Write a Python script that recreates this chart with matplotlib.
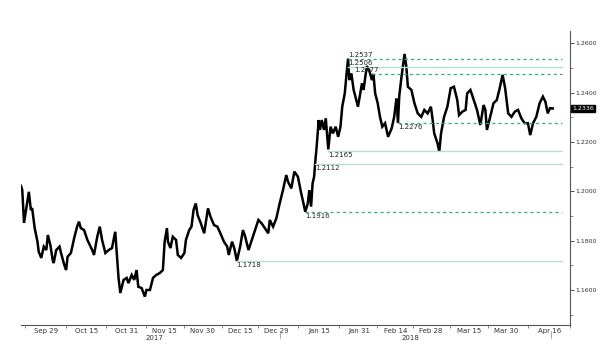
import numpy as np
import pandas as pd
from matplotlib import pyplot as plt

# day offsets from 2017-09-29 and the rate
days = [-9.7, -9.2, -8.5, -7.5, -6.6, -5.8, -5.3, -4.3, -3.2, -2.7, -1.7, -0.7, 0.3, 0.9, 1.9,
        2.8, 3.2, 4.2, 5.5, 6.1, 7.4, 8.1, 8.7, 10.0, 11.3, 12.5, 13.2, 13.9, 15.2, 16.5,
        18.4, 19.1, 20.4, 21.4, 22.3, 23.6, 24.9, 26.2, 27.5, 28.2, 28.8, 29.5, 30.8, 32.0,
        32.7, 34.0, 35.0, 35.9, 36.6, 37.9, 39.2, 39.8, 41.2, 42.4, 43.7, 45.1, 46.3, 47.0,
        47.9, 48.3, 49.3, 50.2, 51.5, 52.2, 53.5, 54.8, 55.4, 56.7, 57.6, 58.4, 59.3, 60.0,
        61.3, 62.6, 63.2, 64.1, 65.1, 66.5, 67.8, 69.0, 70.4, 71.7, 72.3, 73.6, 74.5, 75.5,
        76.8, 77.9, 78.8, 80.1, 81.4, 82.7, 84.0, 85.3, 86.6, 87.9, 88.5, 89.8, 91.1, 92.4,
        93.7, 95.0, 95.7, 97.0, 98.2, 99.6, 100.9, 101.8, 102.5, 103.5, 104.1, 104.8, 105.4,
        106.0, 106.4, 107.0, 107.8, 108.3, 109.0, 109.9, 110.6, 111.3, 111.6, 112.5, 113.4,
        114.5, 115.5, 116.4, 117.1, 118.1, 118.7, 119.4, 119.9, 120.7, 121.6, 122.3, 123.3,
        124.2, 124.9, 125.5, 126.2, 126.8, 127.7, 128.8, 129.4, 130.1, 131.1, 132.0, 132.9,
        134.0, 135.2, 136.6, 137.6, 138.5, 139.1, 139.6, 140.5, 141.7, 142.4, 143.0, 144.4,
        145.6, 146.9, 148.3, 149.5, 150.8, 152.1, 152.8, 153.4, 154.7, 155.4, 156.1, 157.3,
        158.6, 159.9, 161.2, 162.5, 163.2, 164.5, 165.8, 166.4, 167.7, 169.0, 170.3, 171.6,
        172.9, 173.6, 174.2, 175.5, 176.8, 178.1, 179.1, 180.4, 181.4, 182.6, 183.9, 185.2,
        186.5, 187.8, 189.1, 190.4, 191.3, 192.4, 193.7, 195.0, 196.3, 197.3, 198.2, 199.1,
        200.2]
rates = [1.2022, 1.2005, 1.1872, 1.1938, 1.1998, 1.1924, 1.1932, 1.1851, 1.1796, 1.1755,
         1.1730, 1.1776, 1.1762, 1.1823, 1.1782, 1.1722, 1.1709, 1.1762, 1.1776, 1.1750,
         1.1701, 1.1681, 1.1735, 1.1750, 1.1811, 1.1859, 1.1877, 1.1851, 1.1843, 1.1803,
         1.1762, 1.1742, 1.1816, 1.1857, 1.1803, 1.1750, 1.1762, 1.1770, 1.1836, 1.1735,
         1.1649, 1.1588, 1.1641, 1.1649, 1.1628, 1.1661, 1.1641, 1.1681, 1.1613, 1.1608,
         1.1573, 1.1600, 1.1600, 1.1649, 1.1661, 1.1669, 1.1681, 1.1796, 1.1851, 1.1796,
         1.1770, 1.1816, 1.1803, 1.1742, 1.1730, 1.1750, 1.1803, 1.1843, 1.1857, 1.1924,
         1.1951, 1.1904, 1.1870, 1.1830, 1.1871, 1.1931, 1.1897, 1.1863, 1.1857, 1.1830,
         1.1796, 1.1776, 1.1742, 1.1796, 1.1769, 1.1718, 1.1776, 1.1843, 1.1816, 1.1762,
         1.1803, 1.1843, 1.1884, 1.1870, 1.1850, 1.1830, 1.1884, 1.1857, 1.1891, 1.1951,
         1.2005, 1.2066, 1.2039, 1.2012, 1.2080, 1.2059, 1.1992, 1.1951, 1.1917, 1.1951,
         1.2005, 1.1938, 1.2033, 1.2059, 1.2114, 1.2181, 1.2289, 1.2249, 1.2289, 1.2249,
         1.2296, 1.2208, 1.2170, 1.2262, 1.2235, 1.2262, 1.2221, 1.2262, 1.2343, 1.2397,
         1.2465, 1.2538, 1.2451, 1.2478, 1.2411, 1.2384, 1.2343, 1.2397, 1.2438, 1.2411,
         1.2465, 1.2508, 1.2492, 1.2451, 1.2476, 1.2397, 1.2357, 1.2302, 1.2262, 1.2276,
         1.2221, 1.2255, 1.2302, 1.2377, 1.2277, 1.2386, 1.2465, 1.2557, 1.2505, 1.2424,
         1.2411, 1.2357, 1.2316, 1.2302, 1.2330, 1.2316, 1.2343, 1.2289, 1.2235, 1.2195,
         1.2161, 1.2235, 1.2302, 1.2343, 1.2418, 1.2424, 1.2370, 1.2309, 1.2323, 1.2330,
         1.2397, 1.2411, 1.2370, 1.2330, 1.2269, 1.2350, 1.2330, 1.2249, 1.2302, 1.2357,
         1.2370, 1.2411, 1.2472, 1.2418, 1.2316, 1.2302, 1.2323, 1.2330, 1.2296, 1.2276,
         1.2276, 1.2228, 1.2276, 1.2302, 1.2357, 1.2384, 1.2363, 1.2316, 1.2337, 1.2336]

# marked levels: value, day where the line starts, dashed or solid, label above/below
level_values = [1.2537, 1.2506, 1.2477, 1.2276, 1.2165, 1.2112, 1.1916, 1.1718]
level_start = [119.5, 119.5, 128.9, 139.2, 111.6, 106.4, 102.4, 75.2]
level_label_day = [119.5, 119.5, 121.9, 139.2, 111.6, 106.4, 102.4, 75.2]
level_dashed = [True, False, True, True, False, False, True, False]
level_above = [True, True, True, False, False, False, False, False]

tick_dates = ["2017-09-29", "2017-10-15", "2017-10-31", "2017-11-15", "2017-11-30",
              "2017-12-15", "2017-12-29", "2018-01-15", "2018-01-31", "2018-02-14",
              "2018-02-28", "2018-03-15", "2018-03-30", "2018-04-16"]
tick_labels = ["Sep 29", "Oct 15", "Oct 31", "Nov 15", "Nov 30", "Dec 15", "Dec 29",
               "Jan 15", "Jan 31", "Feb 14", "Feb 28", "Mar 15", "Mar 30", "Apr 16"]
last_price = 1.2336

start = pd.Timestamp("2017-09-29")
tick_days = [(pd.Timestamp(d) - start).days for d in tick_dates]

fig = plt.figure(figsize=(6, 3.54), dpi=100)
ax = fig.add_axes([0.035, 0.0819, 0.915, 0.8305])

ax.plot(days, rates, color="black", lw=1.8, solid_joinstyle="miter")

xmax = 204.0
for v, s, ld, dashed, above in zip(level_values, level_start, level_label_day,
                                   level_dashed, level_above):
    if dashed:
        ax.plot([s, xmax], [v, v], color="#2fae86", lw=0.9, ls=(0, (2.5, 2.5)))
    else:
        ax.plot([s, xmax], [v, v], color="#b5e0cc", lw=1.0)
    if above:
        ax.text(ld, v + 0.0002, f"{v:.4f}", fontsize=5, va="bottom", ha="left",
                color="#222222")
    else:
        ax.text(ld, v - 0.0004, f"{v:.4f}", fontsize=5, va="top", ha="left",
                color="#222222")

ax.set_xlim(-9.7, xmax)
ax.set_ylim(1.14581, 1.26499)

for side in ["left", "top"]:
    ax.spines[side].set_visible(False)
ax.spines["right"].set_color("#555555")
ax.spines["bottom"].set_color("#555555")
ax.spines["right"].set_linewidth(0.8)
ax.spines["bottom"].set_linewidth(0.8)

yt = [1.16, 1.18, 1.20, 1.22, 1.24, 1.26]
ax.yaxis.tick_right()
ax.set_yticks(yt)
ax.set_yticklabels([f"{v:.4f}" for v in yt])
ax.set_yticks(np.arange(1.15, 1.265, 0.01), minor=True)
ax.tick_params(axis="y", which="major", length=3, width=0.6, labelsize=4.5,
               colors="#333333", pad=1)
ax.tick_params(axis="y", which="minor", length=2, width=0.5, colors="#555555")

# tick marks sit between the labels, labels hang on minor ticks with no mark
mids = [(a + b) / 2 for a, b in zip(tick_days[:-1], tick_days[1:])]
mids = [tick_days[0] - 8] + mids + [tick_days[-1] + 8]
ax.set_xticks(mids)
ax.set_xticklabels([""] * len(mids))
ax.set_xticks(tick_days, minor=True)
ax.set_xticklabels(tick_labels, minor=True)
ax.tick_params(axis="x", which="major", length=2, width=0.5, colors="#555555")
ax.tick_params(axis="x", which="minor", length=0, labelsize=5, colors="#333333", pad=2)

# years under the date labels
ax.text(tick_days[3] - 4, -0.035, "2017", transform=ax.get_xaxis_transform(),
        fontsize=5, ha="center", va="top", color="#333333")
ax.text((tick_days[9] + tick_days[10]) / 2 - 1, -0.035, "2018",
        transform=ax.get_xaxis_transform(), fontsize=5, ha="center", va="top",
        color="#333333")
for d in [92.5, 199.5]:
    ax.plot([d, d], [-0.02, -0.045], transform=ax.get_xaxis_transform(),
            color="#999999", lw=0.6, clip_on=False)

# last price tag on the right axis
ax.text(1.004, last_price, f"{last_price:.4f}", transform=ax.get_yaxis_transform(),
        fontsize=4.5, color="white", va="center", ha="left",
        bbox=dict(boxstyle="square,pad=0.15", fc="black", ec="black"))

fig.savefig("out.png", dpi=100, facecolor="white")
